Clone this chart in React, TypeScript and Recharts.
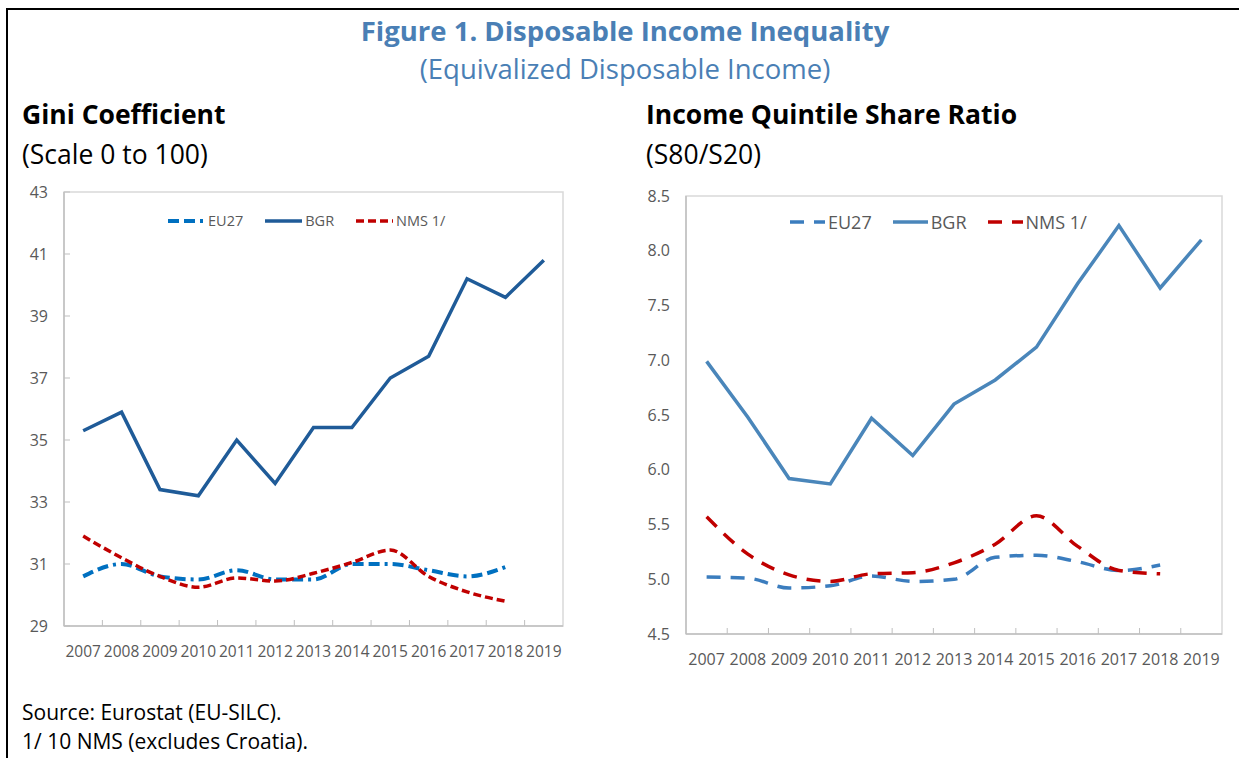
import React from 'react'
import { LineChart, Line, XAxis, YAxis, ReferenceArea } from 'recharts'

const years = [2007, 2008, 2009, 2010, 2011, 2012, 2013, 2014, 2015, 2016, 2017, 2018, 2019]

// Gini coefficient (scale 0 to 100)
const giniEU27 = [30.6, 31.0, 30.6, 30.5, 30.8, 30.5, 30.5, 31.0, 31.0, 30.8, 30.6, 30.9, null]
const giniBGR = [35.3, 35.9, 33.4, 33.2, 35.0, 33.6, 35.4, 35.4, 37.0, 37.7, 40.2, 39.6, 40.8]
const giniNMS = [31.9, 31.2, 30.6, 30.25, 30.55, 30.45, 30.7, 31.05, 31.45, 30.6, 30.1, 29.8, null]
const giniTicks = [29, 31, 33, 35, 37, 39, 41, 43]

// Income quintile share ratio (S80/S20)
const s80EU27 = [5.02, 5.01, 4.92, 4.94, 5.03, 4.98, 5.0, 5.2, 5.22, 5.16, 5.08, 5.13, null]
const s80BGR = [6.99, 6.48, 5.92, 5.87, 6.47, 6.13, 6.6, 6.82, 7.12, 7.7, 8.23, 7.66, 8.1]
const s80NMS = [5.57, 5.23, 5.04, 4.98, 5.05, 5.06, 5.15, 5.32, 5.58, 5.3, 5.08, 5.05, null]
const s80Ticks = [4.5, 5.0, 5.5, 6.0, 6.5, 7.0, 7.5, 8.0, 8.5]

const seriesNames = ['EU27', 'BGR', 'NMS 1/']

const giniData = years.map((year, i) => ({ year, eu27: giniEU27[i], bgr: giniBGR[i], nms: giniNMS[i] }))
const s80Data = years.map((year, i) => ({ year, eu27: s80EU27[i], bgr: s80BGR[i], nms: s80NMS[i] }))

// separators between the year categories, like Excel's tick marks
const xTicks = years.flatMap((y, i) => (i === 0 ? [y] : [y - 0.5, y]))
const xDomain = [years[0] - 0.5, years[years.length - 1] + 0.5]

const FONT = '"Open Sans", "Noto Sans", sans-serif'
const GREY_TEXT = '#595959'
const AXIS = '#BFBFBF'
const BORDER = '#D9D9D9'
const TITLE_BLUE = '#4A7FB5'

type SeriesStyle = { key: string; name: string; color: string; width: number; dash?: string; smooth: boolean }

const giniStyles: SeriesStyle[] = [
  { key: 'eu27', name: seriesNames[0], color: '#0070C0', width: 4, dash: '11 5 11 5 3 5', smooth: true },
  { key: 'bgr', name: seriesNames[1], color: '#1F5B98', width: 3.5, smooth: false },
  { key: 'nms', name: seriesNames[2], color: '#C00000', width: 3.5, dash: '8 4', smooth: true },
]

const s80Styles: SeriesStyle[] = [
  { key: 'eu27', name: seriesNames[0], color: '#3B7DBE', width: 3.5, dash: '14 10', smooth: true },
  { key: 'bgr', name: seriesNames[1], color: '#4A86BA', width: 3.5, smooth: false },
  { key: 'nms', name: seriesNames[2], color: '#C00000', width: 3.5, dash: '14 10', smooth: true },
]

const X_MARGIN = 20
const Y_MARGIN = 16

function XTick(props: any) {
  const { x, y, payload, fontSize } = props
  const v = payload.value as number
  if (!Number.isInteger(v)) {
    const axisY = y - X_MARGIN
    return <line x1={x} x2={x} y1={axisY} y2={axisY - 6} stroke={AXIS} strokeWidth={1} />
  }
  return (
    <text x={x} y={y} dy="0.71em" textAnchor="middle" fill={GREY_TEXT} fontSize={fontSize} fontFamily={FONT}>
      {v}
    </text>
  )
}

function YTick(props: any) {
  const { x, y, payload, inward, digits } = props
  const axisX = x + Y_MARGIN
  return (
    <g>
      {inward && <line x1={axisX} x2={axisX + 6} y1={y} y2={y} stroke={AXIS} strokeWidth={1} />}
      <text x={x} y={y} dy="0.355em" textAnchor="end" fill={GREY_TEXT} fontSize={16} fontFamily={FONT}>
        {(payload.value as number).toFixed(digits)}
      </text>
    </g>
  )
}

function LegendRow({
  styles,
  left,
  top,
  gap,
  fontSize,
  sample,
}: {
  styles: SeriesStyle[]
  left: number
  top: number
  gap: number
  fontSize: number
  sample: number
}) {
  return (
    <div style={{ position: 'absolute', left, top, display: 'flex', alignItems: 'center', gap }}>
      {styles.map((s) => (
        <div key={s.key} style={{ display: 'flex', alignItems: 'center' }}>
          <svg width={sample} height={10}>
            <line x1={0} x2={sample} y1={5} y2={5} stroke={s.color} strokeWidth={s.width} strokeDasharray={s.dash} />
          </svg>
          <span style={{ marginLeft: 3, fontSize, color: GREY_TEXT, fontFamily: FONT, lineHeight: 1 }}>{s.name}</span>
        </div>
      ))}
    </div>
  )
}

function Panel({
  data,
  styles,
  ticks,
  digits,
  inward,
  width,
  height,
  margin,
  xFont,
}: {
  data: any[]
  styles: SeriesStyle[]
  ticks: number[]
  digits: number
  inward: boolean
  width: number
  height: number
  margin: { top: number; right: number; bottom: number; left: number }
  xFont: number
}) {
  const yDomain = [ticks[0], ticks[ticks.length - 1]]
  return (
    <LineChart width={width} height={height} data={data} margin={margin}>
      <XAxis
        dataKey="year"
        type="number"
        domain={xDomain}
        ticks={xTicks}
        interval={0}
        tickLine={false}
        tickSize={0}
        tickMargin={X_MARGIN}
        axisLine={{ stroke: AXIS, strokeWidth: 1.5 }}
        tick={(p: any) => <XTick {...p} fontSize={xFont} />}
        height={30}
      />
      <YAxis
        type="number"
        domain={yDomain}
        ticks={ticks}
        interval={0}
        tickLine={false}
        tickSize={0}
        tickMargin={Y_MARGIN}
        axisLine={{ stroke: AXIS, strokeWidth: 1.5 }}
        tick={(p: any) => <YTick {...p} inward={inward} digits={digits} />}
        width={50}
      />
      <ReferenceArea
        x1={xDomain[0]}
        x2={xDomain[1]}
        y1={yDomain[0]}
        y2={yDomain[1]}
        fill="none"
        stroke={BORDER}
        strokeWidth={1.5}
      />
      {styles.map((s) => (
        <Line
          key={s.key}
          dataKey={s.key}
          name={s.name}
          type={s.smooth ? 'monotone' : 'linear'}
          stroke={s.color}
          strokeWidth={s.width}
          strokeDasharray={s.dash}
          dot={false}
          activeDot={false}
          isAnimationActive={false}
        />
      ))}
    </LineChart>
  )
}

export default function App() {
  return (
    <div
      style={{
        position: 'fixed',
        left: 0,
        top: 0,
        width: 1239,
        height: 758,
        background: '#fff',
        overflow: 'hidden',
        fontFamily: FONT,
      }}
    >
      <div
        style={{
          position: 'absolute',
          left: 6,
          top: 8,
          width: 1300,
          height: 800,
          borderTop: '2.5px solid #000',
          borderLeft: '2.5px solid #000',
        }}
      />
      <div style={{ position: 'absolute', left: 0, top: 17, width: 1250, textAlign: 'center', lineHeight: 1 }}>
        <div style={{ fontSize: 27.5, fontWeight: 700, color: TITLE_BLUE }}>Figure 1. Disposable Income Inequality</div>
      </div>
      <div style={{ position: 'absolute', left: 0, top: 55, width: 1250, textAlign: 'center', lineHeight: 1 }}>
        <div style={{ fontSize: 27.5, color: TITLE_BLUE }}>(Equivalized Disposable Income)</div>
      </div>

      <div style={{ position: 'absolute', left: 22, top: 101, fontSize: 26.5, fontWeight: 700, lineHeight: 1 }}>
        Gini Coefficient
      </div>
      <div style={{ position: 'absolute', left: 22, top: 141, fontSize: 26.5, lineHeight: 1 }}>(Scale 0 to 100)</div>
      <div style={{ position: 'absolute', left: 646, top: 101, fontSize: 26.5, fontWeight: 700, lineHeight: 1 }}>
        Income Quintile Share Ratio
      </div>
      <div style={{ position: 'absolute', left: 646, top: 141, fontSize: 26.5, lineHeight: 1 }}>(S80/S20)</div>

      <div style={{ position: 'absolute', left: 0, top: 170 }}>
        <Panel
          data={giniData}
          styles={giniStyles}
          ticks={giniTicks}
          digits={0}
          inward
          width={600}
          height={500}
          margin={{ top: 22, right: 37, bottom: 14, left: 14 }}
          xFont={15.5}
        />
      </div>
      <LegendRow styles={giniStyles} left={168} top={214} gap={22} fontSize={14.5} sample={37} />

      <div style={{ position: 'absolute', left: 630, top: 170 }}>
        <Panel
          data={s80Data}
          styles={s80Styles}
          ticks={s80Ticks}
          digits={1}
          inward={false}
          width={609}
          height={500}
          margin={{ top: 26, right: 17, bottom: 6, left: 6 }}
          xFont={16}
        />
      </div>
      <LegendRow styles={s80Styles} left={790} top={213} gap={21} fontSize={18} sample={35} />

      <div style={{ position: 'absolute', left: 22, top: 702, fontSize: 21, lineHeight: 1 }}>Source: Eurostat (EU-SILC).</div>
      <div style={{ position: 'absolute', left: 22, top: 731, fontSize: 21, lineHeight: 1 }}>1/ 10 NMS (excludes Croatia).</div>
    </div>
  )
}
